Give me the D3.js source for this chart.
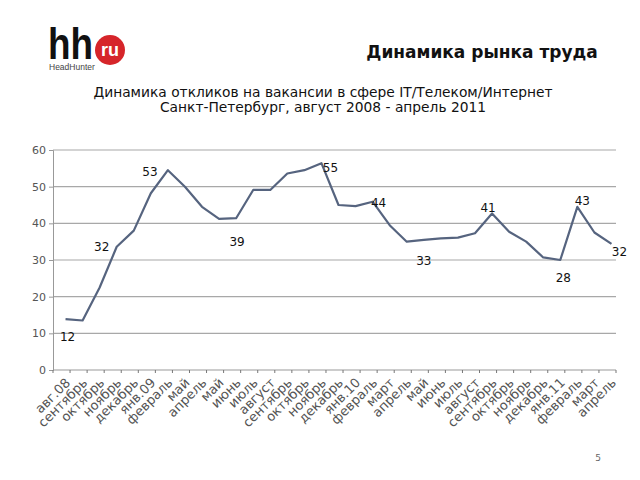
<!DOCTYPE html>
<html><head><meta charset="utf-8">
<script src="https://cdn.jsdelivr.net/npm/d3@7"></script>
<style>body{margin:0;background:#fff}svg{display:block}</style>
</head><body>
<script>
const categories = ["авг.08","сентябрь","октябрь","ноябрь","декабрь","янв.09","февраль","май","апрель","май","июнь","июль","август","сентябрь","октябрь","ноябрь","декабрь","янв.10","февраль","март","апрель","май","июнь","июль","август","сентябрь","октябрь","ноябрь","декабрь","янв.11","февраль","март","апрель"];
const values = [13.9,13.5,22.5,33.6,38.0,48.2,54.5,50.0,44.5,41.2,41.4,49.1,49.1,53.6,54.5,56.4,45.0,44.7,45.9,39.5,35.0,35.5,35.9,36.1,37.3,42.7,37.7,35.0,30.7,30.0,44.5,37.5,34.4];
const yTicks = [0,10,20,30,40,50,60];
const annotIndex = [0,3,6,10,15,18,21,25,29,30,32];
const annotText = ["12","32","53","39","55","44","33","41","28","43","32"];
const annotOffset = [[2,18],[-15,0],[-18,2],[1,24],[9,5],[6,1],[0,21],[-4,-5],[3,18],[5,-6],[8,8]];

const W=640,H=480;
const svg=d3.select("body").append("svg").attr("width",W).attr("height",H);
const font="DejaVu Sans, Verdana, sans-serif";

// Logo
const logo=svg.append("g");
logo.append("text").attr("transform","translate(48,59) scale(0.82,1)").text("hh")
  .attr("font-family","Liberation Sans, Arial, sans-serif").attr("font-weight","bold")
  .attr("font-size",45).attr("fill","#111");
logo.append("circle").attr("cx",110).attr("cy",50).attr("r",15).attr("fill","#d6252a");
logo.append("text").attr("x",110).attr("y",56).attr("text-anchor","middle").text("ru")
  .attr("font-family","Liberation Sans, Arial, sans-serif").attr("font-weight","bold").attr("font-size",18).attr("fill","#fff");
logo.append("text").attr("x",49).attr("y",70).text("HeadHunter")
  .attr("font-family","Liberation Sans, Arial, sans-serif").attr("font-size",8.5).attr("fill","#444");

// Titles
svg.append("text").attr("x",482).attr("y",58).attr("text-anchor","middle").text("Динамика рынка труда")
  .attr("font-family",font).attr("font-weight","bold").attr("font-size",17).attr("fill","#111");
svg.append("text").attr("x",323).attr("y",97).attr("text-anchor","middle").text("Динамика откликов на вакансии в сфере IT/Телеком/Интернет")
  .attr("font-family",font).attr("font-size",13.8).attr("fill","#111");
svg.append("text").attr("x",323).attr("y",112).attr("text-anchor","middle").text("Санкт-Петербург, август 2008 - апрель 2011")
  .attr("font-family",font).attr("font-size",13.8).attr("fill","#111");

// Scales
const x=d3.scaleBand().domain(d3.range(categories.length)).range([53,616]);
const y=d3.scaleLinear().domain([0,60]).range([370,150]);

// Gridlines
svg.append("g").selectAll("line").data(yTicks.filter(d=>d>0)).join("line")
  .attr("x1",53).attr("x2",616).attr("y1",d=>y(d)).attr("y2",d=>y(d))
  .attr("stroke","#a8a8a8").attr("stroke-width",1.2);

// Y axis
const ya=svg.append("g").attr("transform","translate(53,0)")
  .call(d3.axisLeft(y).tickValues(yTicks).tickSize(4).tickPadding(3));
ya.select(".domain").attr("stroke","#999");
ya.selectAll(".tick line").attr("stroke","#999");
ya.selectAll("text").attr("font-family",font).attr("font-size",11).attr("fill","#555");

// X axis
const xa=svg.append("g").attr("transform","translate(0,370)");
xa.append("line").attr("x1",53).attr("x2",616).attr("stroke","#999");
xa.selectAll("line.tk").data(d3.range(categories.length+1)).join("line").attr("class","tk")
  .attr("x1",i=>53+i*x.step()).attr("x2",i=>53+i*x.step()).attr("y1",0).attr("y2",3).attr("stroke","#777");
xa.selectAll("text").data(categories).join("text")
  .attr("transform",(d,i)=>`translate(${x(i)+x.bandwidth()/2+4},8) rotate(-45)`)
  .attr("text-anchor","end").attr("dy","0.6em").text(d=>d)
  .attr("font-family",font).attr("font-size",13).attr("fill","#555");

// Line
const px=i=>x(i)+x.bandwidth()/2+4;
svg.append("path").datum(values)
  .attr("d",d3.line().x((d,i)=>px(i)).y(d=>y(d)))
  .attr("fill","none").attr("stroke","#56647f").attr("stroke-width",2.2).attr("stroke-linejoin","round");

// Annotations
svg.append("g").selectAll("text").data(annotIndex).join("text")
  .attr("x",(d,k)=>px(d)+annotOffset[k][0]).attr("y",(d,k)=>y(values[d])+annotOffset[k][1])
  .attr("text-anchor","middle").attr("dominant-baseline","central").text((d,k)=>annotText[k])
  .attr("font-family",font).attr("font-size",12).attr("fill","#111");

// Page number
svg.append("text").attr("x",598).attr("y",461).attr("text-anchor","middle").text("5")
  .attr("font-family",font).attr("font-size",9).attr("fill","#666");
</script>
</body></html>
